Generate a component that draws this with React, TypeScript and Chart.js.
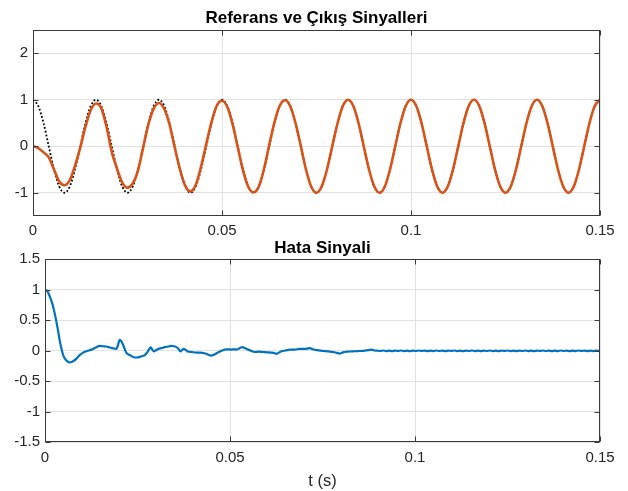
import React, { useEffect, useRef } from 'react';
import { Chart, registerables } from 'chart.js';

Chart.register(...registerables);

// ---------- data ----------
const SAMPLE_STEP = 1 / 720; // s, sampling grid of the top plot

const referenceValues = [
  1, 0.866, 0.5, 0, -0.5, -0.866, -1, -0.866, -0.5, 0, 0.5, 0.866,
  1, 0.866, 0.5, 0, -0.5, -0.866, -1, -0.866, -0.5, 0, 0.5, 0.866,
  1, 0.866, 0.5, 0, -0.5, -0.866, -1, -0.866, -0.5, 0, 0.5, 0.866,
  1, 0.866, 0.5, 0, -0.5, -0.866, -1, -0.866, -0.5, 0, 0.5, 0.866,
  1, 0.866, 0.5, 0, -0.5, -0.866, -1, -0.866, -0.5, 0, 0.5, 0.866,
  1, 0.866, 0.5, 0, -0.5, -0.866, -1, -0.866, -0.5, 0, 0.5, 0.866,
  1, 0.866, 0.5, 0, -0.5, -0.866, -1, -0.866, -0.5, 0, 0.5, 0.866,
  1, 0.866, 0.5, 0, -0.5, -0.866, -1, -0.866, -0.5, 0, 0.5, 0.866,
  1, 0.866, 0.5, 0, -0.5, -0.866, -1, -0.866, -0.5, 0, 0.5, 0.866,
  1,
];

const outputValues = [
  0, -0.04, -0.13, -0.24, -0.5, -0.76, -0.84, -0.73, -0.42, -0.03, 0.42, 0.78,
  0.92, 0.82, 0.42, -0.12, -0.48, -0.78, -0.89, -0.8, -0.52, -0.02, 0.48, 0.81,
  0.93, 0.8, 0.47, -0.03, -0.5, -0.85, -0.97, -0.83, -0.44, 0.05, 0.52, 0.87,
  0.98, 0.85, 0.48, -0.02, -0.52, -0.87, -0.99, -0.87, -0.49, 0.03, 0.52, 0.87,
  0.99, 0.86, 0.5, 0.01, -0.5, -0.87, -1, -0.86, -0.5, 0, 0.49, 0.86,
  1, 0.87, 0.5, 0, -0.5, -0.86, -1, -0.87, -0.5, 0, 0.5, 0.866,
  1, 0.866, 0.5, 0, -0.5, -0.866, -1, -0.866, -0.5, 0, 0.5, 0.866,
  1, 0.866, 0.5, 0, -0.5, -0.866, -1, -0.866, -0.5, 0, 0.5, 0.866,
  1, 0.866, 0.5, 0, -0.5, -0.866, -1, -0.866, -0.5, 0, 0.5, 0.866,
  1,
];

const errorTimes = [
  0, 0.0007, 0.0013, 0.002, 0.0026, 0.0031, 0.0035, 0.0041, 0.0045, 0.0049,
  0.0053, 0.0058, 0.0063, 0.0067, 0.0072, 0.0076, 0.0083, 0.0089, 0.0096, 0.0103,
  0.011, 0.0116, 0.0123, 0.013, 0.0139, 0.0148, 0.0157, 0.0166, 0.0175, 0.0184,
  0.0193, 0.0197, 0.0202, 0.0206, 0.0211, 0.0218, 0.0223, 0.0229, 0.0236, 0.0242,
  0.0249, 0.0256, 0.0263, 0.027, 0.0275, 0.0279, 0.0283, 0.0286, 0.029, 0.0294,
  0.03, 0.0306, 0.0315, 0.0324, 0.0333, 0.0342, 0.0349, 0.0355, 0.0361, 0.0366,
  0.037, 0.0375, 0.038, 0.0386, 0.0397, 0.0409, 0.042, 0.0431, 0.044, 0.0449,
  0.0458, 0.0467, 0.0476, 0.0485, 0.0494, 0.0503, 0.051, 0.0517, 0.0525, 0.0533,
  0.054, 0.0548, 0.0557, 0.0566, 0.0578, 0.0589, 0.06, 0.0611, 0.0618, 0.0625,
  0.0632, 0.0638, 0.065, 0.0661, 0.0675, 0.0688, 0.07, 0.0708, 0.0716, 0.0724,
  0.0735, 0.075, 0.0765, 0.078, 0.0789, 0.0797, 0.0805, 0.0815, 0.083, 0.0845,
  0.086, 0.0875, 0.0883, 0.089, 0.0898, 0.0906, 0.0914, 0.0922, 0.093, 0.0938,
  0.0946, 0.0954, 0.0962, 0.097, 0.0978, 0.0986, 0.0994, 0.1002, 0.101, 0.1018,
  0.1026, 0.1034, 0.1042, 0.105, 0.1058, 0.1066, 0.1074, 0.1082, 0.109, 0.1098,
  0.1106, 0.1114, 0.1122, 0.113, 0.1138, 0.1146, 0.1154, 0.1162, 0.117, 0.1178,
  0.1186, 0.1194, 0.1202, 0.121, 0.1218, 0.1226, 0.1234, 0.1242, 0.125, 0.1258,
  0.1266, 0.1274, 0.1282, 0.129, 0.1298, 0.1306, 0.1314, 0.1322, 0.133, 0.1338,
  0.1346, 0.1354, 0.1362, 0.137, 0.1378, 0.1386, 0.1394, 0.1402, 0.141, 0.1418,
  0.1426, 0.1434, 0.1442, 0.145, 0.1458, 0.1466, 0.1474, 0.1482, 0.149, 0.15,
];

const errorValues = [
  1.0, 0.97, 0.89, 0.77, 0.62, 0.47, 0.34, 0.13, 0.02, -0.07,
  -0.12, -0.16, -0.185, -0.19, -0.185, -0.17, -0.14, -0.1, -0.06, -0.03,
  -0.01, 0.0, 0.015, 0.03, 0.06, 0.08, 0.075, 0.07, 0.055, 0.04,
  0.03, 0.09, 0.18, 0.16, 0.1, -0.01, -0.05, -0.07, -0.095, -0.11,
  -0.11, -0.1, -0.085, -0.07, -0.035, 0.0, 0.04, 0.055, 0.02, -0.01,
  0.01, 0.03, 0.045, 0.06, 0.07, 0.08, 0.075, 0.06, 0.03, -0.01,
  0.01, 0.03, 0.015, -0.01, -0.02, -0.03, -0.03, -0.04, -0.06, -0.08,
  -0.06, -0.03, -0.005, 0.02, 0.025, 0.02, 0.025, 0.02, 0.04, 0.06,
  0.045, 0.02, 0.0, -0.02, -0.015, -0.02, -0.025, -0.03, -0.035, -0.05,
  -0.03, -0.01, 0.005, 0.02, 0.02, 0.03, 0.03, 0.035, 0.045, 0.025,
  0.01, 0.0, -0.01, -0.02, -0.035, -0.045, -0.025, -0.015, -0.01, -0.005,
  0.0, 0.01, 0.02, 0.005, 0.004, -0.003, 0.005, -0.004, 0.003, -0.005,
  0.004, -0.002, 0.005, -0.004, 0.003, -0.005, 0.004, -0.003, 0.005, -0.002,
  0.004, -0.005, 0.003, -0.004, 0.005, -0.003, 0.004, -0.005, 0.003, -0.002,
  0.005, -0.004, 0.003, -0.005, 0.004, -0.003, 0.005, -0.004, 0.002, -0.005,
  0.004, -0.003, 0.005, -0.004, 0.003, -0.005, 0.004, -0.002, 0.005, -0.004,
  0.003, -0.005, 0.004, -0.003, 0.005, -0.004, 0.003, -0.005, 0.004, -0.002,
  0.005, -0.003, 0.004, -0.005, 0.003, -0.004, 0.005, -0.003, 0.004, -0.005,
  0.003, -0.004, 0.005, -0.002, 0.004, -0.005, 0.003, -0.004, 0.004, -0.002,
];

const xTicks = [0, 0.05, 0.1, 0.15];
const xTickLabels = ['0', '0.05', '0.1', '0.15'];
const topYTicks = [-1, 0, 1, 2];
const topYTickLabels = ['-1', '0', '1', '2'];
const bottomYTicks = [-1.5, -1, -0.5, 0, 0.5, 1, 1.5];
const bottomYTickLabels = ['-1.5', '-1', '-0.5', '0', '0.5', '1', '1.5'];

const topTitle = 'Referans ve Çıkış Sinyalleri';
const bottomTitle = 'Hata Sinyali';
const xAxisTitle = 't (s)';

// ---------- style ----------
const FONT = '"Liberation Sans", Arial, Helvetica, sans-serif';
const TEXT = '#262626';
const AXIS = '#3a3a3a';
const GRID = '#e2e2e2';
const ORANGE = '#D95319';
const BLUE = '#0072BD';

const boxPlugin = {
  id: 'matlabBox',
  afterDraw(chart: any) {
    const { ctx, chartArea: a, scales } = chart;
    const xs = scales.x;
    const ys = scales.y;
    const L = Math.round(a.left) + 0.5;
    const R = Math.round(a.right) - 0.5;
    const T = Math.round(a.top) + 0.5;
    const B = Math.round(a.bottom) - 0.5;
    const tl = 5;
    ctx.save();
    ctx.strokeStyle = AXIS;
    ctx.lineWidth = 1;
    ctx.strokeRect(L, T, R - L, B - T);
    ctx.beginPath();
    xs.ticks.forEach((t: any) => {
      const px = Math.round(xs.getPixelForValue(t.value)) + 0.5;
      ctx.moveTo(px, B);
      ctx.lineTo(px, B - tl);
      ctx.moveTo(px, T);
      ctx.lineTo(px, T + tl);
    });
    ys.ticks.forEach((t: any) => {
      const py = Math.round(ys.getPixelForValue(t.value)) + 0.5;
      ctx.moveTo(L, py);
      ctx.lineTo(L + tl, py);
      ctx.moveTo(R, py);
      ctx.lineTo(R - tl, py);
    });
    ctx.stroke();
    // axes title, centred over the plot area like MATLAB
    const opts = chart.options.plugins.axesTitle;
    if (opts && opts.text) {
      ctx.fillStyle = '#000';
      ctx.font = `bold 17px ${FONT}`;
      ctx.textAlign = 'center';
      ctx.textBaseline = 'middle';
      ctx.fillText(opts.text, (a.left + a.right) / 2, opts.y);
    }
    ctx.restore();
  },
};

function makeOptions(cfg: {
  title: string;
  titleY: number;
  plotTop: number;
  yMin: number;
  yMax: number;
  yTicks: number[];
  yLabels: string[];
  yWidth: number;
  xHeight: number;
  xPad: number;
  xTitle?: string;
}) {
  return {
    responsive: false,
    animation: false as const,
    devicePixelRatio: 1,
    layout: { padding: { left: 0, right: 28, top: cfg.plotTop, bottom: 0 } },
    plugins: {
      legend: { display: false },
      tooltip: { enabled: false },
      title: { display: false },
      axesTitle: { text: cfg.title, y: cfg.titleY },
    },
    scales: {
      x: {
        type: 'linear' as const,
        min: 0,
        max: 0.15,
        afterBuildTicks: (s: any) => {
          s.ticks = xTicks.map((v) => ({ value: v }));
        },
        afterFit: (s: any) => {
          s.height = cfg.xHeight;
        },
        ticks: {
          color: TEXT,
          font: { family: FONT, size: 15, lineHeight: 1.2 },
          padding: cfg.xPad,
          maxRotation: 0,
          autoSkip: false,
          callback: (_v: any, i: number) => xTickLabels[i],
        },
        grid: { color: GRID, drawTicks: false, lineWidth: 1 },
        border: { display: false },
        title: cfg.xTitle
          ? {
              display: true,
              text: cfg.xTitle,
              color: TEXT,
              font: { family: FONT, size: 16.5, lineHeight: 1.2 },
              padding: { top: 0, bottom: 0 },
            }
          : { display: false },
      },
      y: {
        type: 'linear' as const,
        min: cfg.yMin,
        max: cfg.yMax,
        afterBuildTicks: (s: any) => {
          s.ticks = cfg.yTicks.map((v) => ({ value: v }));
        },
        afterFit: (s: any) => {
          s.width = cfg.yWidth;
        },
        ticks: {
          color: TEXT,
          font: { family: FONT, size: 15, lineHeight: 1.2 },
          padding: 5,
          autoSkip: false,
          callback: (_v: any, i: number) => cfg.yLabels[i],
        },
        grid: { color: GRID, drawTicks: false, lineWidth: 1 },
        border: { display: false },
      },
    },
  };
}

function TopChart() {
  const ref = useRef<HTMLCanvasElement | null>(null);
  useEffect(() => {
    if (!ref.current) return;
    const refPts = referenceValues.map((v, i) => ({ x: i * SAMPLE_STEP, y: v }));
    const outPts = outputValues.map((v, i) => ({ x: i * SAMPLE_STEP, y: v }));
    const chart = new Chart(ref.current, {
      type: 'line',
      data: {
        datasets: [
          {
            label: 'Referans',
            data: refPts,
            borderColor: '#000',
            borderWidth: 1.8,
            borderDash: [1.8, 2],
            pointRadius: 0,
            cubicInterpolationMode: 'monotone',
            fill: false,
            order: 2,
          },
          {
            label: 'Çıkış',
            data: outPts,
            borderColor: ORANGE,
            borderWidth: 2.6,
            pointRadius: 0,
            cubicInterpolationMode: 'monotone',
            fill: false,
            order: 1,
          },
        ],
      },
      options: makeOptions({
        title: topTitle,
        titleY: 18,
        plotTop: 30,
        yMin: -1.5,
        yMax: 2.5,
        yTicks: topYTicks,
        yLabels: topYTickLabels,
        yWidth: 33,
        xHeight: 29,
        xPad: 6,
      }) as any,
      plugins: [boxPlugin],
    });
    return () => chart.destroy();
  }, []);
  return (
    <canvas
      ref={ref}
      width={628}
      height={245}
      style={{ position: 'absolute', left: 0, top: 0, width: 628, height: 245 }}
    />
  );
}

function BottomChart() {
  const ref = useRef<HTMLCanvasElement | null>(null);
  useEffect(() => {
    if (!ref.current) return;
    const pts = errorValues.map((v, i) => ({ x: errorTimes[i], y: v }));
    const chart = new Chart(ref.current, {
      type: 'line',
      data: {
        datasets: [
          {
            label: 'Hata',
            data: pts,
            borderColor: BLUE,
            borderWidth: 2.2,
            pointRadius: 0,
            cubicInterpolationMode: 'monotone',
            fill: false,
          },
        ],
      },
      options: makeOptions({
        title: bottomTitle,
        titleY: 14,
        plotTop: 25.3,
        yMin: -1.5,
        yMax: 1.5,
        yTicks: bottomYTicks,
        yLabels: bottomYTickLabels,
        yWidth: 45,
        xHeight: 48.7,
        xPad: 6.5,
        xTitle: xAxisTitle,
      }) as any,
      plugins: [boxPlugin],
    });
    return () => chart.destroy();
  }, []);
  return (
    <canvas
      ref={ref}
      width={628}
      height={257}
      style={{ position: 'absolute', left: 0, top: 234, width: 628, height: 257 }}
    />
  );
}

export default function App() {
  return (
    <div
      style={{
        position: 'fixed',
        left: 0,
        top: 0,
        width: 628,
        height: 491,
        background: '#fff',
        overflow: 'hidden',
      }}
    >
      <BottomChart />
      <TopChart />
    </div>
  );
}
